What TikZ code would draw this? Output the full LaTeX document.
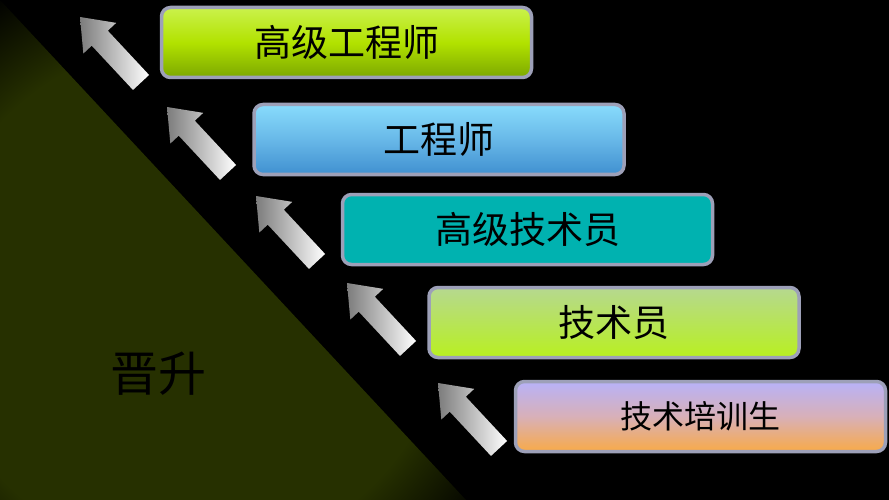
\documentclass[tikz,border=0pt]{standalone}
\usepackage{fontspec}
\newfontfamily\cjk{Noto Sans CJK SC}
\definecolor{triolive}{HTML}{263000}
\definecolor{boxedge}{HTML}{9DA0B8}
\definecolor{gatop}{HTML}{CAF24C}
\definecolor{gamid}{HTML}{B2E200}
\definecolor{gabot}{HTML}{7CA800}
\definecolor{gbtop}{HTML}{88DCFC}
\definecolor{gbmid}{HTML}{68B8E8}
\definecolor{gbbot}{HTML}{4090D0}
\definecolor{gcfill}{HTML}{00B2B0}
\definecolor{gdtop}{HTML}{B6D890}
\definecolor{gdbot}{HTML}{B8F020}
\definecolor{getop}{HTML}{B8B2F8}
\definecolor{gemid}{HTML}{D8B0B8}
\definecolor{gebot}{HTML}{F8AA48}
\definecolor{arrowgrey}{HTML}{7C7C7C}
\pgfdeclareradialshading{trishade}{\pgfpoint{0bp}{0bp}}{color(0bp)=(triolive); color(18bp)=(triolive); color(25bp)=(black); color(50bp)=(black)}
\begin{document}
\begin{tikzpicture}[x=1pt,y=1pt,
  box/.style={draw=boxedge, line width=3.5pt, rounded corners=9pt,
    minimum width=370pt, minimum height=70pt, inner sep=0pt,
    font=\cjk\fontsize{37}{37}\selectfont, text=black},
  arrowshade/.style={left color=arrowgrey, right color=white}]
\fill[black] (0,0) rectangle (889,-500);
\useasboundingbox (0,0) rectangle (889,-500);
% promotion triangle
\begin{scope}
  \clip (0,0) -- (466,-500) -- (0,-500) -- cycle;
  \shade[shading=trishade] (190,-300) circle (360);
\end{scope}
\node[font=\cjk\fontsize{48}{48}\selectfont, text=black] (promo) at (158.5,-373.5) {晋升};
% arrows
\foreach \tx/\ty in {80/17, 167/107, 256/196, 347/283, 438/383} {
  \begin{scope}[shift={(\tx,-\ty)}, rotate=133]
    \coordinate (t) at (0,0);
    \coordinate (w1) at (-29,22.5);
    \coordinate (s1) at (-29,11);
    \coordinate (e1) at (-89.5,11);
    \coordinate (e2) at (-89.5,-11);
    \coordinate (s2) at (-29,-11);
    \coordinate (w2) at (-29,-22.5);
  \end{scope}
  \shade[arrowshade] (t) -- (w1) -- (s1) -- (e1) -- (e2) -- (s2) -- (w2) -- cycle;
}
% boxes
\node[box, top color=gatop, bottom color=gabot, middle color=gamid] (n1) at (346.5,-42.5) {高级工程师};
\node[box, top color=gbtop, bottom color=gbbot, middle color=gbmid] (n2) at (439,-139.5) {工程师};
\node[box, fill=gcfill] (n3) at (527.5,-229.5) {高级技术员};
\node[box, top color=gdtop, bottom color=gdbot] (n4) at (614,-322.5) {技术员};
\node[box, top color=getop, bottom color=gebot, middle color=gemid, font=\cjk\fontsize{32}{32}\selectfont] (n5) at (700.5,-416.5) {技术培训生};
\end{tikzpicture}
\end{document}
